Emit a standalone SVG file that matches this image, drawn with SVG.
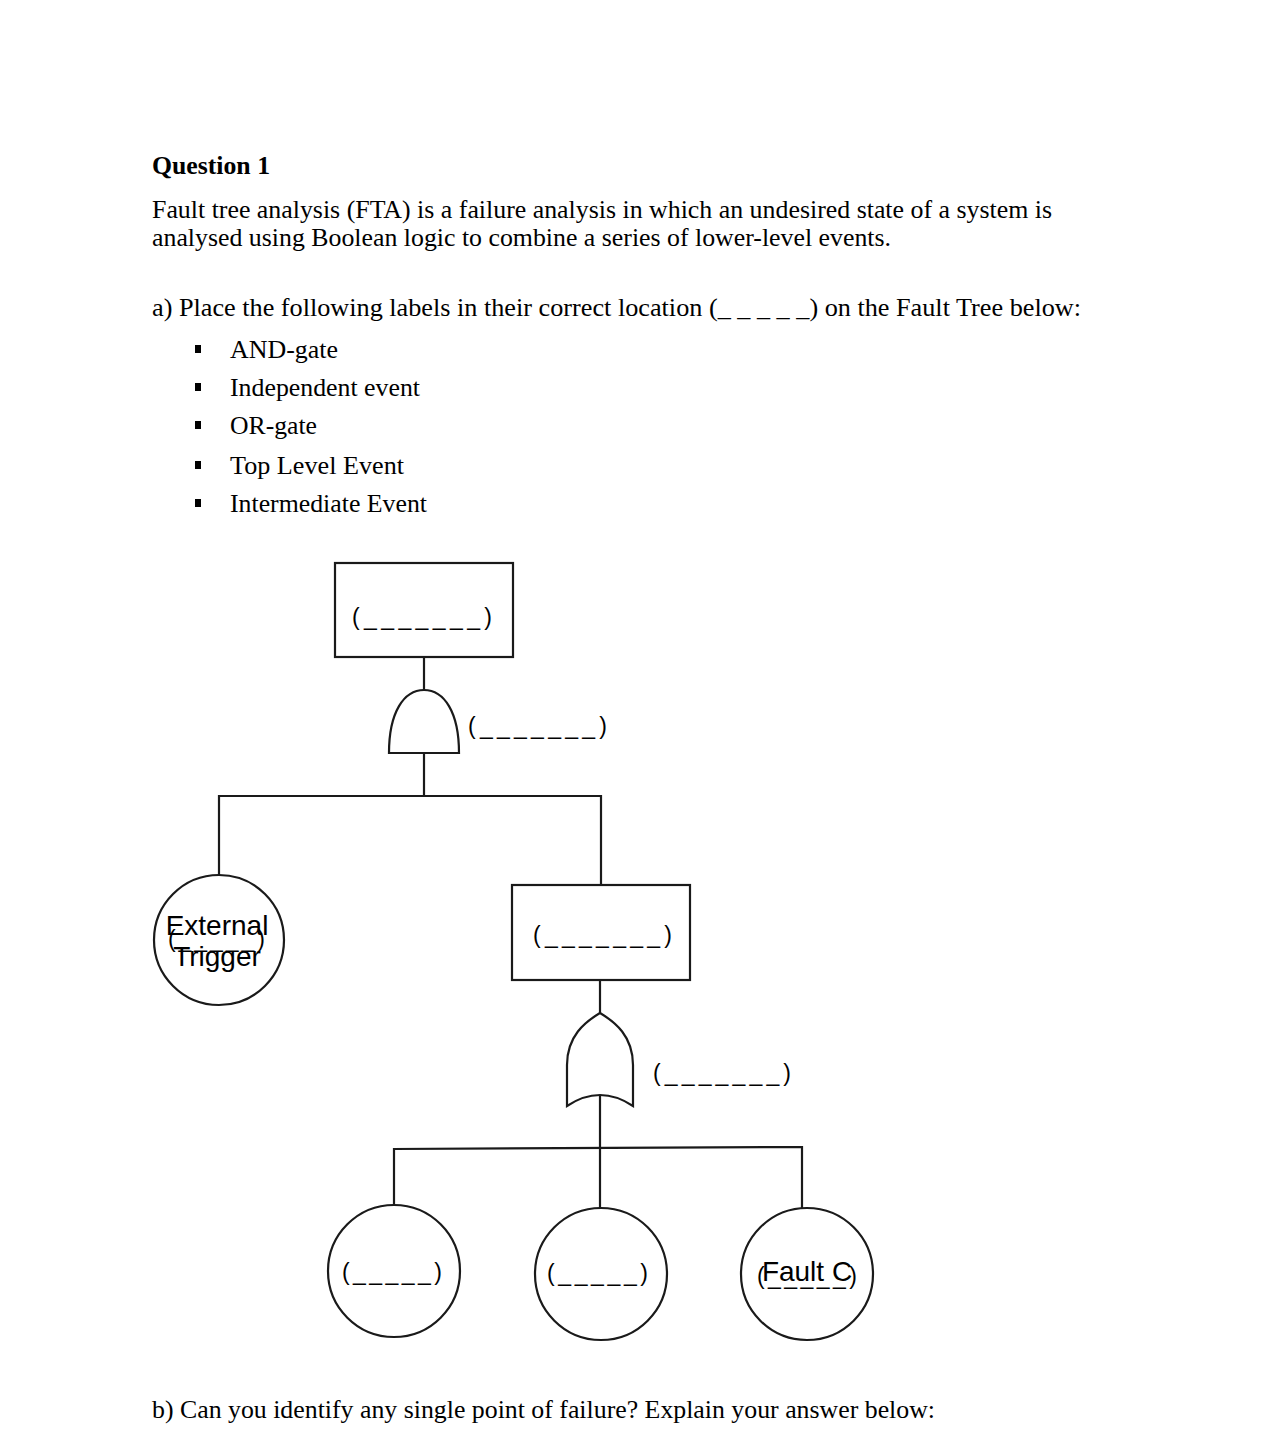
<svg xmlns="http://www.w3.org/2000/svg" width="1280" height="1437" viewBox="0 0 1280 1437">
<style>
.t{font-family:"Liberation Serif","Times New Roman",serif;font-size:26px;fill:#000}
.b{font-weight:bold}
.s{font-family:"Liberation Sans",Arial,sans-serif;fill:#000}
.lbl{font-size:23px}
.nm{font-size:28px}
.ln{fill:none;stroke:#1a1a1a;stroke-width:2.2}
.sh{fill:#fff;stroke:#1a1a1a;stroke-width:2.2}
</style>
<rect width="1280" height="1437" fill="#fff"/>
<g id="text">
<text class="t b" x="152" y="174" textLength="118" lengthAdjust="spacingAndGlyphs">Question 1</text>
<text class="t" x="152" y="218" textLength="900" lengthAdjust="spacingAndGlyphs">Fault tree analysis (FTA) is a failure analysis in which an undesired state of a system is</text>
<text class="t" x="152" y="246" textLength="739" lengthAdjust="spacingAndGlyphs">analysed using Boolean logic to combine a series of lower-level events.</text>
<text class="t" x="152" y="316" textLength="929" lengthAdjust="spacingAndGlyphs">a) Place the following labels in their correct location (_ _ _ _ _) on the Fault Tree below:</text>
<g fill="#000">
<rect x="195" y="345" width="6" height="8"/>
<rect x="195" y="383" width="6" height="8"/>
<rect x="195" y="421" width="6" height="8"/>
<rect x="195" y="461" width="6" height="8"/>
<rect x="195" y="499" width="6" height="8"/>
</g>
<text class="t" x="230" y="358" textLength="108" lengthAdjust="spacingAndGlyphs">AND-gate</text>
<text class="t" x="230" y="396" textLength="190" lengthAdjust="spacingAndGlyphs">Independent event</text>
<text class="t" x="230" y="434" textLength="87" lengthAdjust="spacingAndGlyphs">OR-gate</text>
<text class="t" x="230" y="474" textLength="174" lengthAdjust="spacingAndGlyphs">Top Level Event</text>
<text class="t" x="230" y="512" textLength="197" lengthAdjust="spacingAndGlyphs">Intermediate Event</text>
<text class="t" x="152" y="1418" textLength="783" lengthAdjust="spacingAndGlyphs">b) Can you identify any single point of failure? Explain your answer below:</text>
</g>
<g id="connectors">
<path class="ln" d="M424,657 V690"/>
<path class="ln" d="M424,753 V797"/>
<path class="ln" d="M219,875 V796 H601 V885"/>
<path class="ln" d="M600,980 V1013"/>
<path class="ln" d="M600,1095 V1208"/>
<path class="ln" d="M394,1205 V1149 L802,1147 V1208"/>
</g>
<g id="top-event">
<rect class="sh" x="335" y="563" width="178" height="94"/>
<text class="s lbl" x="352" y="625" textLength="140" lengthAdjust="spacing">(_______)</text>
</g>
<g id="and-gate">
<path class="sh" d="M389,753 C389,712 404,690 424,690 C444,690 459,712 459,753 Z"/>
<text class="s lbl" x="468" y="734" textLength="139" lengthAdjust="spacing">(_______)</text>
</g>
<g id="external-trigger">
<circle class="sh" cx="219" cy="940" r="65"/>
<text class="s lbl" x="168" y="947" textLength="97" lengthAdjust="spacing">(_____)</text>
<text class="s nm" x="217" y="935" text-anchor="middle">External</text>
<text class="s nm" x="217" y="966" text-anchor="middle">Trigger</text>
</g>
<g id="intermediate-event">
<rect class="sh" x="512" y="885" width="178" height="95"/>
<text class="s lbl" x="533" y="943" textLength="139" lengthAdjust="spacing">(_______)</text>
</g>
<g id="or-gate">
<path class="sh" d="M600,1013 C585,1022 567,1036 567,1065 V1106 Q600,1084 633,1106 V1065 C633,1036 615,1022 600,1013 Z"/>
<text class="s lbl" x="653" y="1081" textLength="138" lengthAdjust="spacing">(_______)</text>
</g>
<g id="event-1">
<circle class="sh" cx="394" cy="1271" r="66"/>
<text class="s lbl" x="342" y="1280" textLength="100" lengthAdjust="spacing">(_____)</text>
</g>
<g id="event-2">
<circle class="sh" cx="601" cy="1274" r="66"/>
<text class="s lbl" x="547" y="1281" textLength="101" lengthAdjust="spacing">(_____)</text>
</g>
<g id="fault-c">
<circle class="sh" cx="807" cy="1274" r="66"/>
<text class="s lbl" x="757" y="1284" textLength="100" lengthAdjust="spacing">(_____)</text>
<text class="s nm" x="807" y="1281" text-anchor="middle">Fault C</text>
</g>
</svg>
